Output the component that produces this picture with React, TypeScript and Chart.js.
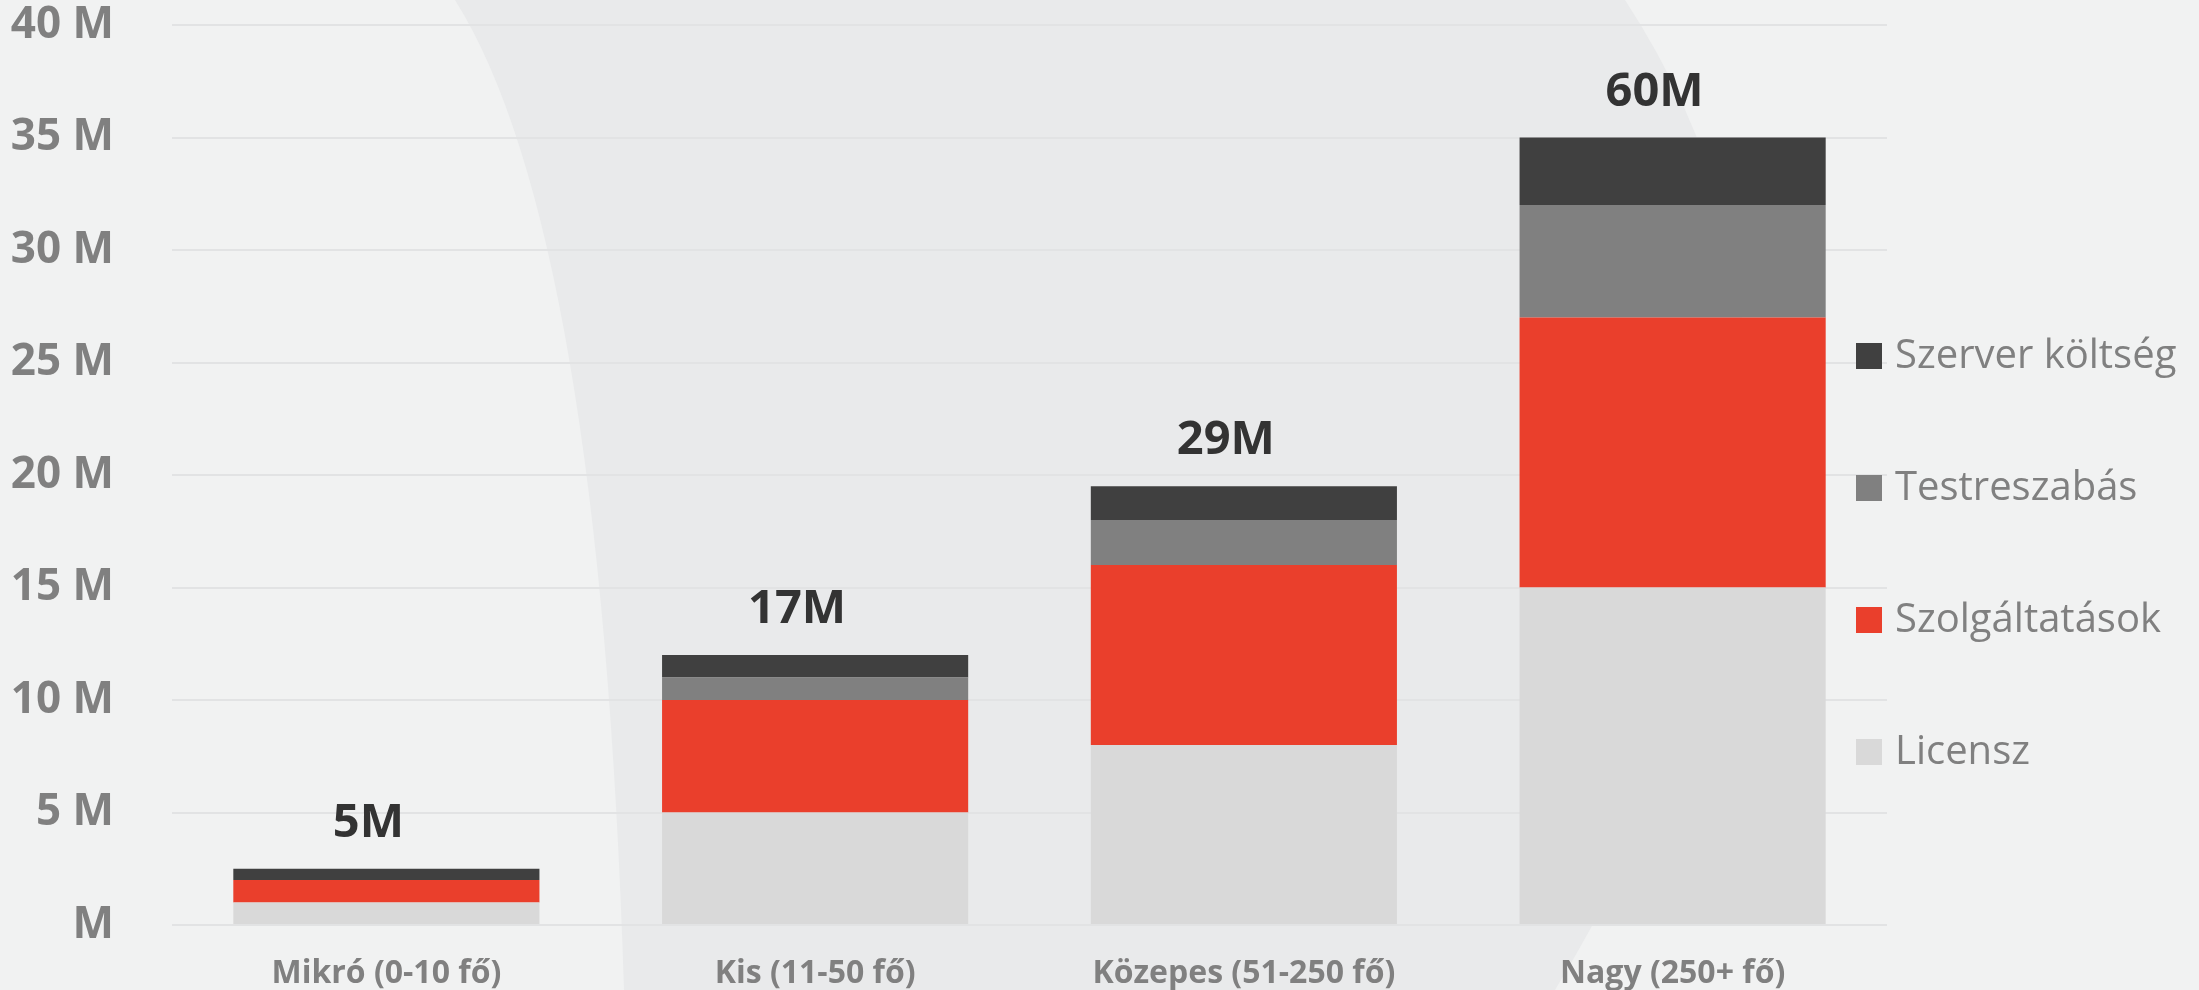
import React, { useEffect, useRef } from "react";
import { Chart, registerables } from "chart.js";

Chart.register(...registerables);

const categories = ["Mikró (0-10 fő)", "Kis (11-50 fő)", "Közepes (51-250 fő)", "Nagy (250+ fő)"];
const licensz = [1, 5, 8, 15];
const szolgaltatasok = [1, 5, 8, 12];
const testreszabas = [0, 1, 2, 5];
const szerver = [0.5, 1, 1.5, 3];
const totalLabels = ["5M", "17M", "29M", "60M"];
const yTicks = [0, 5, 10, 15, 20, 25, 30, 35, 40];

const FONT = "'Open Sans', 'Noto Sans', sans-serif";

const backgroundPlugin = {
  id: "bgPlugin",
  beforeDraw(chart: any) {
    const { ctx, width, height } = chart;
    ctx.save();
    ctx.fillStyle = "#f1f2f2";
    ctx.fillRect(0, 0, width, height);
    ctx.fillStyle = "#e9eaeb";
    ctx.beginPath();
    ctx.moveTo(455, 0);
    ctx.quadraticCurveTo(600, 230, 624, height);
    ctx.lineTo(1555, height);
    ctx.quadraticCurveTo(1900, 420, 1625, 0);
    ctx.closePath();
    ctx.fill();
    ctx.restore();
  },
};

const totalsPlugin = {
  id: "totalsPlugin",
  afterDatasetsDraw(chart: any) {
    const { ctx, scales } = chart;
    ctx.save();
    ctx.font = `bold 47px ${FONT}`;
    ctx.fillStyle = "#333333";
    ctx.textAlign = "center";
    ctx.textBaseline = "alphabetic";
    categories.forEach((_, i) => {
      const total = chart.data.datasets.reduce((s: number, d: any) => s + (d.data[i] || 0), 0);
      const x = scales.x.getPixelForValue(i) - 18;
      const y = scales.y.getPixelForValue(total) - 32;
      ctx.fillText(totalLabels[i], x, y);
    });
    ctx.restore();
  },
};

const legendPlugin = {
  id: "customLegend",
  afterDraw(chart: any) {
    const { ctx, chartArea } = chart;
    const ds = [...chart.data.datasets].reverse();
    const boxX = chartArea.right - 31;
    const firstY = 356;
    const gap = 132;
    ctx.save();
    ctx.font = `40px ${FONT}`;
    ctx.textBaseline = "middle";
    ctx.textAlign = "left";
    ds.forEach((d: any, i: number) => {
      const cy = firstY + i * gap;
      ctx.fillStyle = d.backgroundColor;
      ctx.fillRect(boxX, cy - 13, 26, 26);
      ctx.fillStyle = "#808080";
      ctx.fillText(d.label, boxX + 39, cy + 1);
    });
    ctx.restore();
  },
};

export default function App() {
  const ref = useRef<HTMLCanvasElement | null>(null);
  useEffect(() => {
    document.body.style.margin = "0";
    if (!ref.current) return;
    const chart = new Chart(ref.current, {
      type: "bar",
      data: {
        labels: categories,
        datasets: [
          { label: "Licensz", data: licensz, backgroundColor: "#d9d9d9" },
          { label: "Szolgáltatások", data: szolgaltatasok, backgroundColor: "#ea3f2c" },
          { label: "Testreszabás", data: testreszabas, backgroundColor: "#808080" },
          { label: "Szerver költség", data: szerver, backgroundColor: "#404040" },
        ],
      },
      options: {
        animation: false,
        responsive: true,
        maintainAspectRatio: false,
        layout: { padding: { left: 0, right: 312, top: 0, bottom: 0 } },
        datasets: { bar: { categoryPercentage: 1, barPercentage: 0.714, borderWidth: 0 } },
        plugins: { legend: { display: false }, tooltip: { enabled: false } },
        scales: {
          x: {
            stacked: true,
            grid: { display: false },
            border: { display: false },
            ticks: { color: "#808080", font: { family: FONT, size: 32, weight: "bold" }, padding: 22 },
            afterFit(scale: any) {
              scale.height = 65;
            },
          },
          y: {
            stacked: true,
            min: 0,
            max: 40,
            afterBuildTicks(scale: any) {
              scale.ticks = yTicks.map((v) => ({ value: v }));
            },
            afterFit(scale: any) {
              scale.width = 172;
              scale.paddingTop = 25;
              scale.paddingBottom = 0;
            },
            grid: { color: "#e2e3e4", lineWidth: 2, drawTicks: false },
            border: { display: false },
            ticks: {
              color: "#808080",
              padding: 58,
              font: { family: FONT, size: 44, weight: "bold" },
              callback: (v: any) => (v === 0 ? "M" : `${v} M`),
            },
          },
        },
      },
      plugins: [backgroundPlugin, totalsPlugin, legendPlugin],
    } as any);
    return () => chart.destroy();
  }, []);
  return (
    <div style={{ width: 2199, height: 990, position: "relative" }}>
      <canvas ref={ref} />
    </div>
  );
}
